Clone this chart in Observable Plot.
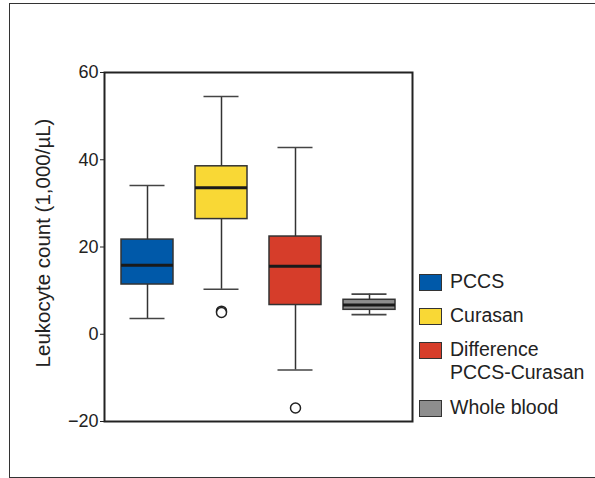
<!DOCTYPE html>
<html><head><meta charset="utf-8">
<script src="https://cdn.jsdelivr.net/npm/d3@7"></script>
<script src="https://cdn.jsdelivr.net/npm/@observablehq/plot@0.6"></script>
<style>
html,body{margin:0;padding:0;background:#fff;}
#wrap{position:relative;width:595px;height:478px;overflow:hidden;font-family:"Liberation Sans",Arial,sans-serif;color:#222;}
#border{position:absolute;left:9px;top:3px;width:620px;height:475px;border:1.5px solid #333;box-sizing:border-box;}
#chart{position:absolute;left:0;top:0;}
.lg{position:absolute;left:419px;display:flex;align-items:flex-start;}
.sw{width:23px;height:17px;box-sizing:border-box;border:1.5px solid #333;}
.lt{position:absolute;left:31px;font-size:19.5px;line-height:23.4px;white-space:nowrap;}
</style>
</head><body>
<div id="wrap"><div id="border"></div><div id="chart"></div><div id="legend"></div></div>
<script>
const categories = ["PCCS", "Curasan", "Difference PCCS-Curasan", "Whole blood"];
const colors = ["#0059a9", "#f9d835", "#d63d2a", "#8e8e8e"];
const whiskerLow = [3.6, 10.3, -8.2, 4.5];
const q1 = [11.4, 26.4, 6.7, 5.6];
const median = [15.8, 33.6, 15.6, 6.7];
const q3 = [21.7, 38.5, 22.4, 7.9];
const whiskerHigh = [34.1, 54.5, 42.8, 9.2];
const outlierCats = ["Curasan", "Curasan", "Difference PCCS-Curasan"];
const outlierValues = [5.3, 5.0, -16.9];
const yTicks = [-20, 0, 20, 40, 60];
const yLabel = "Leukocyte count (1,000/µL)";
const legendLines = [["PCCS"], ["Curasan"], ["Difference", "PCCS-Curasan"], ["Whole blood"]];

const data = categories.map((c, i) => ({cat: c, lo: whiskerLow[i], q1: q1[i], med: median[i], q3: q3[i], hi: whiskerHigh[i]}));
const outl = outlierCats.map((c, i) => ({cat: c, v: outlierValues[i]}));

const chart = Plot.plot({
  width: 595, height: 478,
  marginLeft: 104, marginRight: 183, marginTop: 72, marginBottom: 57,
  style: {fontFamily: '"Liberation Sans", Arial, sans-serif', fontSize: "18px", color: "#222", background: "transparent"},
  x: {type: "band", domain: categories, paddingInner: 0.293, paddingOuter: 0.2, axis: null},
  y: {domain: [-20, 60]},
  color: {domain: categories, range: colors},
  marks: [
    Plot.ruleX(data, {x: "cat", y1: "lo", y2: "q1", stroke: "#333", strokeWidth: 1.5}),
    Plot.ruleX(data, {x: "cat", y1: "q3", y2: "hi", stroke: "#333", strokeWidth: 1.5}),
    Plot.tickY(data, {x: "cat", y: "lo", insetLeft: 8.5, insetRight: 8.5, stroke: "#444", strokeWidth: 1.6}),
    Plot.tickY(data, {x: "cat", y: "hi", insetLeft: 8.5, insetRight: 8.5, stroke: "#444", strokeWidth: 1.6}),
    Plot.barY(data, {x: "cat", y1: "q1", y2: "q3", fill: "cat", stroke: "#333", strokeWidth: 1.5}),
    Plot.tickY(data, {x: "cat", y: "med", stroke: "#1a1a1a", strokeWidth: 3}),
    Plot.dot(outl, {x: "cat", y: "v", r: 5, stroke: "#222", strokeWidth: 1.5, fill: "white"}),
    Plot.axisY({ticks: yTicks, tickSize: 4, tickPadding: 2, fontSize: 18, label: null, stroke: "#222"}),
    Plot.text([yLabel], {frameAnchor: "left", rotate: -90, textAnchor: "middle", lineAnchor: "middle", dx: -61, dy: -4, fontSize: 20.5, fill: "#222"}),
    Plot.frame({stroke: "#222", strokeWidth: 2})
  ]
});
document.getElementById("chart").appendChild(chart);

// legend
const legendTops = [274, 307.7, 341.7, 400];
const lg = d3.select("#legend");
legendLines.forEach((lines, i) => {
  const row = lg.append("div").attr("class", "lg").style("top", legendTops[i] + "px");
  row.append("div").attr("class", "sw").style("background", colors[i]);
  const t = row.append("div").attr("class", "lt").style("top", "-4px");
  lines.forEach(l => t.append("div").text(l));
});
</script>
</body></html>
